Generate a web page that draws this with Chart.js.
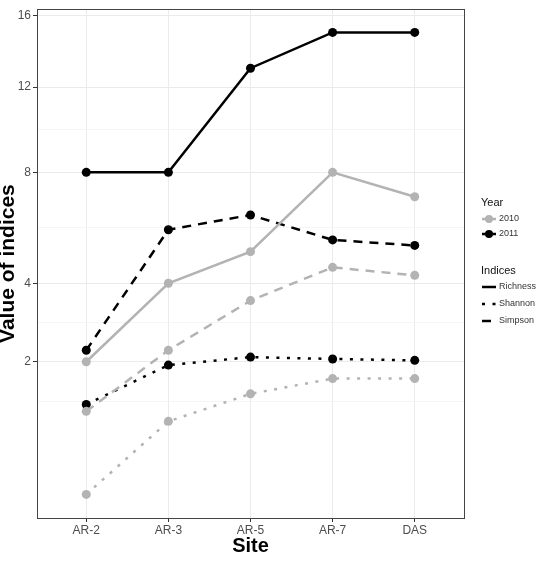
<!DOCTYPE html>
<html>
<head>
<meta charset="utf-8">
<script src="https://cdn.jsdelivr.net/npm/chart.js@4.4.0/dist/chart.umd.min.js"></script>
<style>
  html, body { margin: 0; padding: 0; background: #fff; }
  #chart { display: block; }
</style>
</head>
<body>
<canvas id="chart" width="540" height="561"></canvas>
<script>
// values
const sites = ['AR-2', 'AR-3', 'AR-5', 'AR-7', 'DAS'];
const years = ['2010', '2011'];
const indices = ['Richness', 'Shannon', 'Simpson'];

const richness2010 = [2.0, 4.0, 5.0, 8.0, 7.0];
const shannon2010 = [0.18, 0.94, 1.38, 1.66, 1.66];
const simpson2010 = [1.09, 2.25, 3.50, 4.49, 4.24];
const richness2011 = [8.0, 8.0, 13.0, 15.0, 15.0];
const shannon2011 = [1.20, 1.93, 2.10, 2.06, 2.03];
const simpson2011 = [2.25, 5.76, 6.30, 5.40, 5.21];

const yTicks = [2, 4, 8, 12, 16];

const FONT = '"Liberation Sans", Arial, Helvetica, sans-serif';
const yearColors = ['#b3b3b3', '#000000'];
const dashes = [[], [3, 7.5], [9, 7]];

// square-root axis, like scale_y_sqrt in ggplot
class SqrtScale extends Chart.LinearScale {
    getPixelForValue(value) {
        const a = Math.sqrt(this.min), b = Math.sqrt(this.max);
        return this.getPixelForDecimal((Math.sqrt(Math.max(value, 0)) - a) / (b - a));
    }
    getValueForPixel(pixel) {
        const a = Math.sqrt(this.min), b = Math.sqrt(this.max);
        const s = a + this.getDecimalForPixel(pixel) * (b - a);
        return s * s;
    }
}
SqrtScale.id = 'sqrt';
SqrtScale.defaults = Chart.LinearScale.defaults;
Chart.register(SqrtScale);

// faint minor grid lines halfway between majors (sqrt space); none above 12 in the original
function minorTicks(majors) {
    const r = majors.map(Math.sqrt);
    const out = [];
    for (let i = 0; i < r.length - 2; i++) out.push(Math.pow((r[i] + r[i + 1]) / 2, 2));
    out.push(Math.pow(r[0] - (r[1] - r[0]) / 2, 2));
    return out;
}
const yMinor = minorTicks(yTicks);

function series(values) {
    return values.map((v, i) => ({ x: i, y: v }));
}

function makeDataset(label, values, yearIdx, idxIdx) {
    const c = yearColors[yearIdx];
    return {
        label: label,
        data: series(values),
        borderColor: c,
        backgroundColor: c,
        pointBackgroundColor: c,
        pointBorderWidth: 0,
        pointRadius: 4.5,
        borderWidth: 2.5,
        borderDash: dashes[idxIdx],
        borderCapStyle: 'butt',
        tension: 0,
        fill: false,
    };
}

const datasets = [
    makeDataset('Richness 2010', richness2010, 0, 0),
    makeDataset('Shannon 2010', shannon2010, 0, 1),
    makeDataset('Simpson 2010', simpson2010, 0, 2),
    makeDataset('Richness 2011', richness2011, 1, 0),
    makeDataset('Shannon 2011', shannon2011, 1, 1),
    makeDataset('Simpson 2011', simpson2011, 1, 2),
];

// panel border drawn over the data, as in theme_bw
const borderPlugin = {
    id: 'panelBorder',
    afterDatasetsDraw(chart) {
        const { ctx, chartArea } = chart;
        ctx.save();
        ctx.strokeStyle = '#444';
        ctx.lineWidth = 1;
        ctx.setLineDash([]);
        ctx.strokeRect(Math.round(chartArea.left) + 0.5, Math.round(chartArea.top) + 0.5,
            Math.round(chartArea.right - chartArea.left), Math.round(chartArea.bottom - chartArea.top));
        ctx.restore();
    }
};

// two-part legend (Year / Indices) on the right
const legendPlugin = {
    id: 'ggLegend',
    afterDraw(chart) {
        const ctx = chart.ctx;
        const x0 = 481;
        ctx.save();
        ctx.textAlign = 'left';
        ctx.textBaseline = 'middle';
        ctx.fillStyle = '#111';
        ctx.font = '11px ' + FONT;
        ctx.fillText('Year', x0, 203);
        ctx.fillText('Indices', x0, 271);

        ctx.font = '9px ' + FONT;
        const yearRows = [219, 234];
        years.forEach((yr, i) => {
            const cy = yearRows[i];
            ctx.strokeStyle = yearColors[i];
            ctx.fillStyle = yearColors[i];
            ctx.lineWidth = 2.5;
            ctx.setLineDash([]);
            ctx.beginPath();
            ctx.moveTo(x0 + 1, cy);
            ctx.lineTo(x0 + 15, cy);
            ctx.stroke();
            ctx.beginPath();
            ctx.arc(x0 + 8, cy, 4, 0, Math.PI * 2);
            ctx.fill();
            ctx.fillStyle = '#333';
            ctx.fillText(yr, x0 + 18, cy);
        });

        const idxRows = [287, 304, 321];
        indices.forEach((name, i) => {
            const cy = idxRows[i];
            ctx.strokeStyle = '#000';
            ctx.lineWidth = 2.5;
            ctx.lineCap = 'butt';
            ctx.setLineDash(dashes[i]);
            ctx.beginPath();
            ctx.moveTo(x0 + 1, cy);
            ctx.lineTo(x0 + 15, cy);
            ctx.stroke();
            ctx.setLineDash([]);
            ctx.fillStyle = '#333';
            ctx.fillText(name, x0 + 18, cy);
        });
        ctx.restore();
    }
};

const ctx = document.getElementById('chart').getContext('2d');
new Chart(ctx, {
    type: 'line',
    data: { datasets: datasets },
    options: {
        responsive: false,
        animation: false,
        events: [],
        layout: { padding: { top: 9, right: 76, left: 0, bottom: 0 } },
        plugins: {
            legend: { display: false },
            tooltip: { enabled: false },
        },
        scales: {
            x: {
                type: 'linear',
                min: -0.6,
                max: 4.6,
                afterBuildTicks: (s) => { s.ticks = sites.map((_, i) => ({ value: i })); },
                afterFit: (s) => { s.height = 43; },
                border: { display: false },
                grid: {
                    color: '#ebebeb',
                    lineWidth: 1,
                    tickColor: '#333',
                    tickLength: 4,
                },
                ticks: {
                    autoSkip: false,
                    maxRotation: 0,
                    padding: 1,
                    color: '#4d4d4d',
                    font: { family: FONT, size: 12 },
                    callback: (v) => sites[v],
                },
                title: {
                    display: true,
                    text: 'Site',
                    color: '#000',
                    font: { family: FONT, size: 20, weight: 'bold' },
                    padding: { top: 0, bottom: 3 },
                },
            },
            y: {
                type: 'sqrt',
                min: 0.0615,
                max: 16.37,
                afterBuildTicks: (s) => {
                    s.ticks = yTicks.concat(yMinor).map((v) => ({ value: v }));
                },
                afterFit: (s) => { s.width = 37; },
                border: { display: false },
                grid: {
                    color: (c) => (c.tick && yTicks.includes(c.tick.value)) ? '#ebebeb' : '#f3f3f3',
                    lineWidth: (c) => (c.tick && yTicks.includes(c.tick.value)) ? 1 : 0.8,
                    tickColor: (c) => (c.tick && yTicks.includes(c.tick.value)) ? '#333' : 'rgba(0,0,0,0)',
                    tickLength: 4,
                },
                ticks: {
                    autoSkip: false,
                    padding: 2,
                    color: '#4d4d4d',
                    font: { family: FONT, size: 12 },
                    callback: (v) => yTicks.includes(v) ? String(v) : '',
                },
                title: {
                    display: true,
                    text: 'Value of indices',
                    color: '#000',
                    font: { family: FONT, size: 21, weight: 'bold' },
                    padding: { top: -4, bottom: 0 },
                },
            },
        },
    },
    plugins: [borderPlugin, legendPlugin],
});
</script>
</body>
</html>
